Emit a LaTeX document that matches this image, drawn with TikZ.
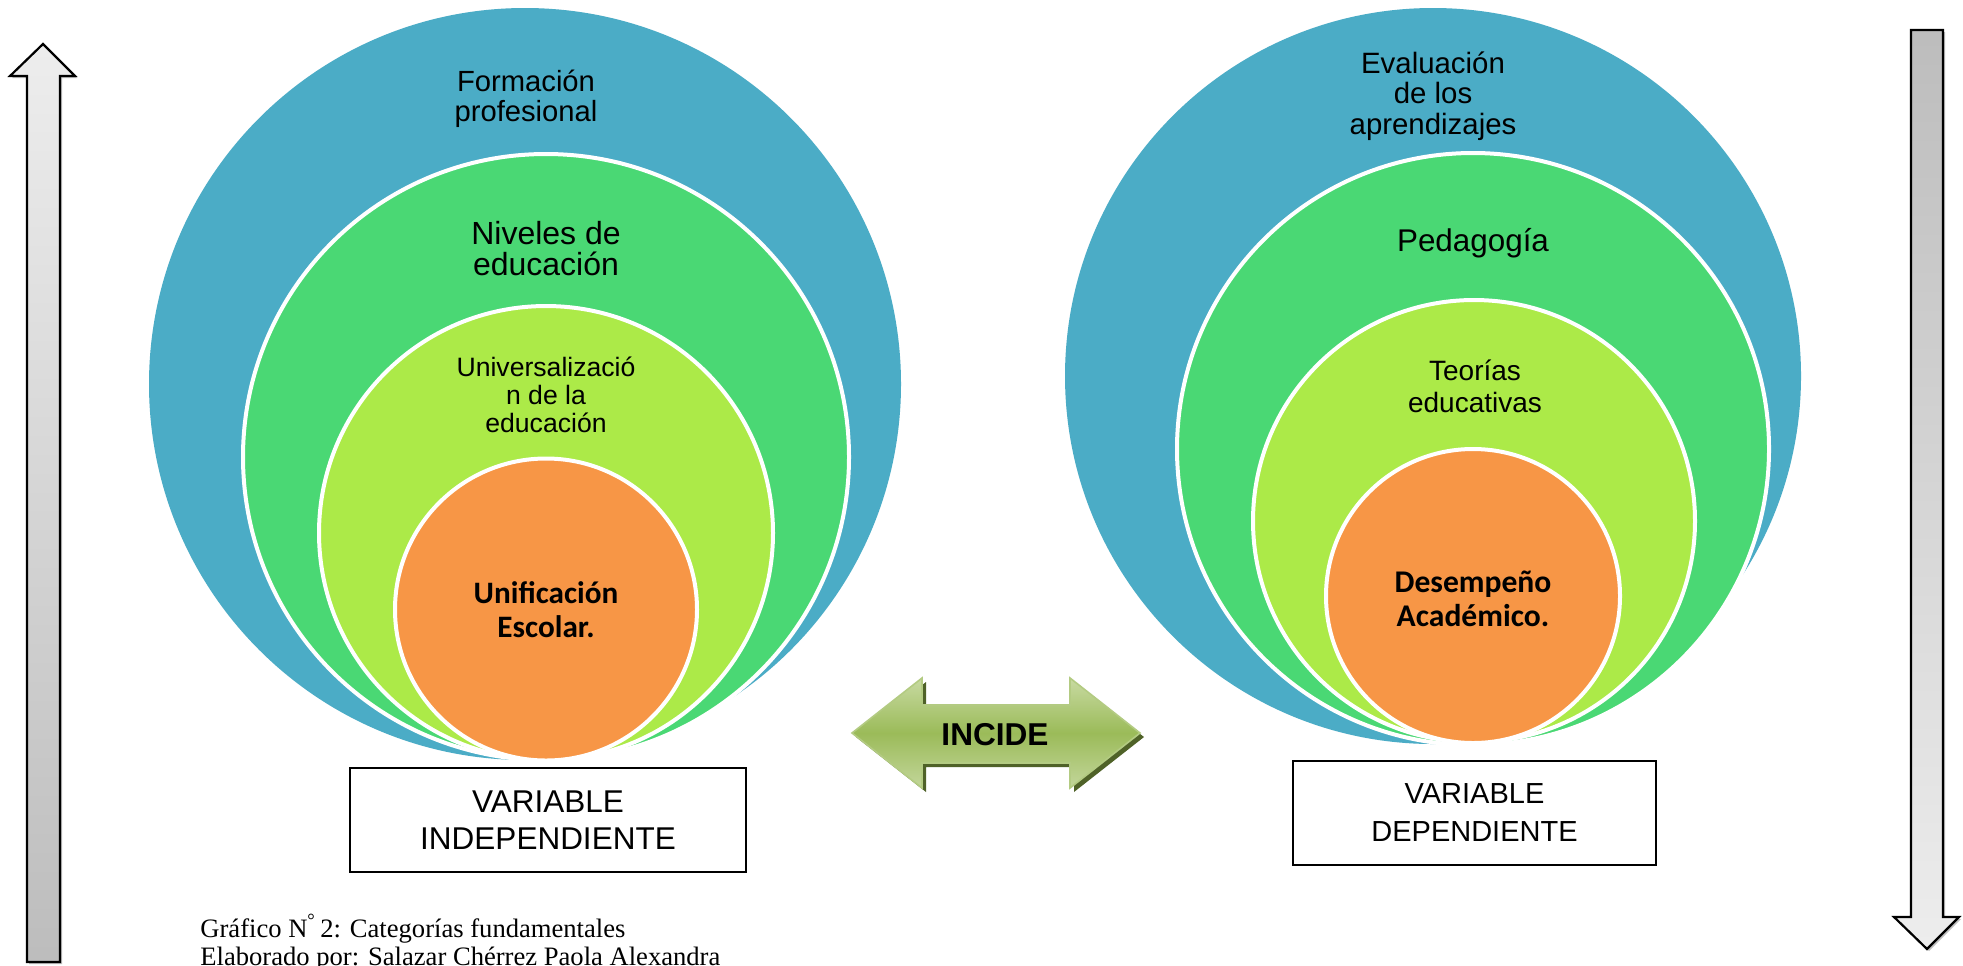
\documentclass[tikz,border=0pt]{standalone}
\usepackage{fontspec}
\setmainfont{Liberation Serif}
\newfontfamily\arial{Liberation Sans}
\newfontfamily\calib{Carlito}
\definecolor{cblue}{HTML}{4BACC6}
\definecolor{cgreen}{HTML}{4AD874}
\definecolor{clime}{HTML}{ACEA48}
\definecolor{corange}{HTML}{F79646}
\definecolor{incT}{HTML}{C8DAA2}
\definecolor{incM}{HTML}{9BBB59}
\definecolor{incB}{HTML}{C3D69B}
\definecolor{incS}{HTML}{4F6228}
\definecolor{incE}{HTML}{B3CB82}
\tikzset{
  ring/.style={draw=white, line width=2pt},
  lab/.style={align=center, inner sep=0pt, text=black},
  varbox/.style={draw=black, line width=1.2pt, fill=white, align=center, inner sep=0pt},
  vshaft/.style={draw=black, line width=1.1pt, line join=miter},
  captxt/.style={anchor=base west, inner sep=0pt, font=\fontsize{13.3}{15}\selectfont},
}
\begin{document}
\begin{tikzpicture}[x=0.5pt,y=-0.5pt]
\useasboundingbox (0,0) rectangle (1963,965);
\fill[white] (0,0) rectangle (1963,965);

% vertical arrows
\fill[black!25] (29,964) -- (29,78) -- (12,78) -- (45,46) -- (77,78) -- (62,78) -- (62,964) -- cycle;
\path[vshaft, top color=black!7, bottom color=black!26] (27,962) -- (27,76) -- (10,76) -- (43,44) -- (75,76) -- (60,76) -- (60,962) -- cycle;
\fill[black!25] (1913,32) -- (1945,32) -- (1945,919) -- (1961,919) -- (1929,951) -- (1896,919) -- (1913,919) -- cycle;
\path[vshaft, top color=black!26, bottom color=black!7] (1911,30) -- (1943,30) -- (1943,917) -- (1959,917) -- (1927,949) -- (1894,917) -- (1911,917) -- cycle;

% left nested circles
\fill[cblue] (525,384) circle[radius=188pt];
\path[ring, fill=cgreen] (546,457) circle[radius=151.5pt];
\path[ring, fill=clime] (546,533) circle[radius=113.5pt];
\path[ring, fill=corange] (546,609.5) circle[radius=75.5pt];

% right nested circles
\fill[cblue] (1433,376) circle[radius=184pt];
\path[ring, fill=cgreen] (1473,449) circle[radius=148pt];
\path[ring, fill=clime] (1474,521) circle[radius=110.5pt];
\path[ring, fill=corange] (1473,596) circle[radius=73.5pt];

% left labels
\node[lab, font=\arial\fontsize{14.6}{15}\selectfont] (formacion) at (526,99) {Formación\\profesional};
\node[lab, font=\arial\fontsize{16}{15.5}\selectfont] (niveles) at (546,249) {Niveles de\\educación};
\node[lab, font=\arial\fontsize{13.3}{14}\selectfont] (univ) at (546,395) {Universalizació\\n de la\\educación};
\node[lab, font=\calib\bfseries\fontsize{15.6}{17}\selectfont] (unif) at (546,610) {Unificación\\Escolar.};

% right labels
\node[lab, font=\arial\fontsize{14.7}{15.2}\selectfont] (evalua) at (1433,96) {Evaluación\\de los\\aprendizajes};
\node[lab, font=\arial\fontsize{15.7}{16}\selectfont] (pedag) at (1473,243) {Pedagogía};
\node[lab, font=\arial\fontsize{14}{16}\selectfont] (teorias) at (1475,386) {Teorías\\educativas};
\node[lab, font=\calib\bfseries\fontsize{15.8}{17}\selectfont] (desemp) at (1473,599) {Desempeño\\Académico.};

% variable boxes
\node[varbox, minimum width=198pt, minimum height=52pt, font=\arial\fontsize{15.75}{18.5}\selectfont] (vind) at (548,820) {VARIABLE\\INDEPENDIENTE};
\node[varbox, minimum width=181.5pt, minimum height=52pt, font=\arial\fontsize{14.5}{19}\selectfont] (vdep) at (1474.5,813) {VARIABLE\\DEPENDIENTE};

% INCIDE double arrow
\fill[incS] (856,737) -- (926,682) -- (926,709) -- (1074,709) -- (1074,682) -- (1144,737) -- (1074,792) -- (1074,767) -- (926,767) -- (926,792) -- cycle;
\path[draw=incE, line width=0.8pt, top color=incT, bottom color=incB, middle color=incM] (852,733) -- (922,678) -- (922,705) -- (1070,705) -- (1070,678) -- (1140,733) -- (1070,788) -- (1070,763) -- (922,763) -- (922,788) -- cycle;
\node[lab, font=\arial\bfseries\fontsize{15.8}{17}\selectfont] (incide) at (995,735) {INCIDE};

% caption
\node[captxt] (cap1) at (200,937) {Gráfico N\textsuperscript{°}\,2: Categorías fundamentales};
\node[captxt] (cap2) at (200,965) {Elaborado por: Salazar Chérrez Paola Alexandra};
\end{tikzpicture}
\end{document}
